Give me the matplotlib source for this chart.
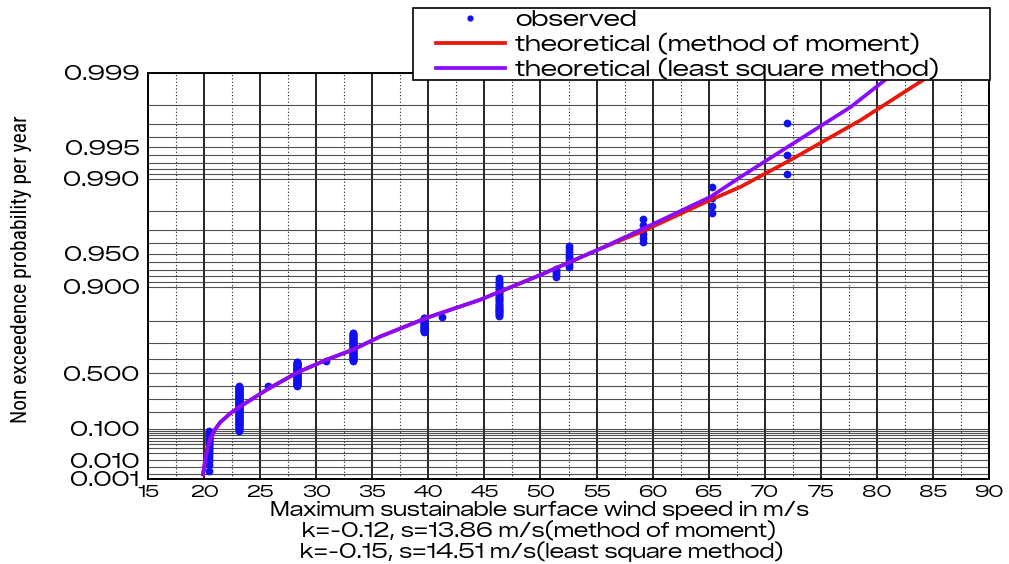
import numpy as np
import matplotlib
matplotlib.use("Agg")
import matplotlib.pyplot as plt
from matplotlib.lines import Line2D
from matplotlib.patches import Rectangle
from matplotlib.ticker import FixedLocator, FixedFormatter, MultipleLocator, NullFormatter

# Observed annual maxima: wind speed (m/s) and how many years reached it
obs_speed = [20.4, 23.1, 25.7, 28.3, 30.9, 33.3, 39.6, 41.2, 46.3, 51.4, 52.5, 59.1, 65.3, 72.0]
obs_count = [29, 104, 1, 61, 1, 55, 21, 1, 33, 5, 9, 6, 4, 3]

# Fitted GEV curves (non exceedence probability, wind speed)
mom_prob = [0.00194, 0.0175, 0.054, 0.0955, 0.133, 0.190, 0.240, 0.374, 0.506, 0.599,
            0.662, 0.733, 0.814, 0.870, 0.922, 0.954, 0.9688, 0.9843, 0.98815, 0.99339,
            0.99722, 0.999]
mom_speed = [19.91, 20.18, 20.54, 20.98, 21.43, 22.32, 23.21, 25.63, 28.30, 30.98,
             33.30, 35.71, 39.91, 44.64, 50.0, 55.09, 59.02, 65.18, 67.86, 72.32,
             78.57, 85.09]
lsq_prob = [0.00194, 0.0175, 0.054, 0.0955, 0.133, 0.190, 0.240, 0.374, 0.506, 0.599,
            0.662, 0.733, 0.814, 0.870, 0.922, 0.954, 0.970, 0.9853, 0.99045, 0.99501,
            0.99791, 0.999]
lsq_speed = [19.91, 20.18, 20.54, 20.98, 21.43, 22.32, 23.21, 25.63, 28.30, 30.98,
             33.30, 35.71, 39.91, 44.64, 50.0, 55.09, 58.93, 65.18, 67.86, 72.05,
             77.68, 81.52]

prob_ticks = [0.001, 0.010, 0.100, 0.500, 0.900, 0.950, 0.990, 0.995, 0.999]
prob_grid = ([0.002, 0.005] + [i / 100 for i in range(1, 10)] + [i / 10 for i in range(1, 10)]
             + [i / 100 for i in range(91, 100)] + [i / 1000 for i in range(991, 999)])

C_OBS, C_MOM, C_LSQ = '#1010f0', '#e8180c', '#8a0cff'
WIDE = ['Zalando Sans Expanded', 'Encode Sans Expanded', 'DejaVu Sans']
NARROW = ['Roboto Condensed', 'DejaVu Sans']
plt.rcParams['font.family'] = WIDE

# Empirical plotting positions i/(N+1) of the sorted sample
speeds_sorted = np.repeat(obs_speed, obs_count)
n = len(speeds_sorted)
plot_pos = np.arange(1, n + 1) / (n + 1)


def gumbel_fwd(p):
    p = np.clip(p, 1e-12, 1 - 1e-12)
    return -np.log(-np.log(p))


def gumbel_inv(g):
    return np.exp(-np.exp(-g))


W, H = 1009, 564
fig = plt.figure(figsize=(W / 100, H / 100), dpi=100)
ax = fig.add_axes([148 / W, 1 - 479 / H, (989 - 148) / W, (479 - 73) / H])
ax.set_yscale('function', functions=(gumbel_fwd, gumbel_inv))
ax.set_xlim(15, 90)
ax.set_ylim(0.001, 0.999)

ax.plot(speeds_sorted, plot_pos, 'o', color=C_OBS, ms=5.6, mec='none', zorder=3)
ax.plot(mom_speed, mom_prob, '-', color=C_MOM, lw=2.7, zorder=4)
ax.plot(lsq_speed, lsq_prob, '-', color=C_LSQ, lw=2.7, zorder=5)

# grid: solid every 5 m/s, dotted half-way; horizontal lines on probability paper
ax.xaxis.set_major_locator(MultipleLocator(5))
ax.xaxis.set_minor_locator(MultipleLocator(2.5))
ax.yaxis.set_major_locator(FixedLocator(prob_ticks))
ax.yaxis.set_major_formatter(FixedFormatter(['%.3f' % p for p in prob_ticks]))
ax.yaxis.set_minor_locator(FixedLocator([p for p in prob_grid if p not in prob_ticks]))
ax.yaxis.set_minor_formatter(NullFormatter())
ax.grid(True, axis='x', which='major', color='black', lw=1.2, ls='-')
ax.grid(True, axis='x', which='minor', color='#222222', lw=0.8, ls=(0, (1, 2)))
ax.grid(True, axis='y', which='both', color='#333333', lw=0.8, ls='-', alpha=0.85)
ax.tick_params(which='both', length=0)
ax.tick_params(axis='y', labelsize=15, pad=6)
ax.tick_params(axis='x', labelsize=12.5, pad=4)
for s in ax.spines.values():
    s.set_linewidth(1.4)
    s.set_color('black')

fig.text(22 / W, 1 - 269 / H, 'Non exceedence probability per year', rotation=90,
         ha='center', va='center', fontsize=15.5, family=NARROW)

bottom_lines = [('Maximum sustainable surface wind speed in m/s', 540, 510),
                ('k=-0.12, s=13.86 m/s(method of moment)', 539, 531),
                ('k=-0.15, s=14.51 m/s(least square method)', 542, 552)]
for txt, xc, yc in bottom_lines:
    fig.text(xc / W, 1 - yc / H, txt, ha='center', va='center', fontsize=14.5)

# legend box sitting over the top edge of the plot
fig.add_artist(Rectangle((413 / W, 1 - 80 / H), (990 - 413) / W, (80 - 8) / H,
                         transform=fig.transFigure, facecolor='white',
                         edgecolor='black', lw=1.2, zorder=4))
handles = [Line2D([], [], marker='o', ls='none', color=C_OBS, ms=4.5, mec='none'),
           Line2D([], [], color=C_MOM, lw=2.7),
           Line2D([], [], color=C_LSQ, lw=2.7)]
labels = ['observed', 'theoretical (method of moment)', 'theoretical (least square method)']
leg = fig.legend(handles, labels, loc='center left',
                 bbox_to_anchor=(436 / W, 1 - 45 / H),
                 fontsize=16.5, frameon=False, handlelength=3.0, labelspacing=0.1,
                 borderpad=0, handletextpad=0.45, borderaxespad=0)
leg.set_zorder(5)

fig.savefig('out.png', dpi=100)
